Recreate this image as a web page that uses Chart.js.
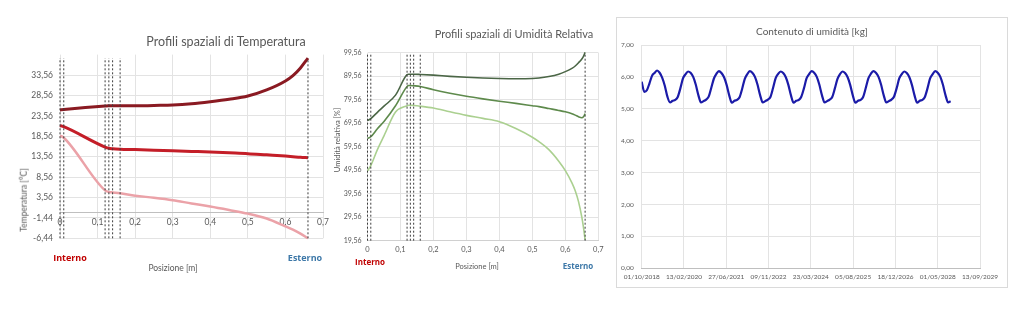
<!DOCTYPE html>
<html lang="it">
<head>
<meta charset="utf-8">
<title>Profili spaziali e contenuto di umidità</title>
<script src="https://cdn.jsdelivr.net/npm/chart.js@4.4.1/dist/chart.umd.min.js"></script>
<style>
  html, body { margin: 0; padding: 0; background: #fff; }
  #pagina { position: relative; width: 1024px; height: 321px; overflow: hidden; font-family: Lato, sans-serif; color: #595959; }
  canvas { position: absolute; left: 0; top: 0; }
  .testo { position: absolute; white-space: nowrap; line-height: 1; transform: translate(-50%, -50%); }
  .verticale { transform: translate(-50%, -50%) rotate(-90deg); }
  .interno { color: #C00000; font-family: 'Open Sans', sans-serif; font-weight: 700; }
  .esterno { color: #3D78A8; font-family: 'Open Sans', sans-serif; font-weight: 700; }
  .riquadro { position: absolute; left: 616px; top: 17px; width: 390px; height: 269px; border: 1px solid #DADADA; }
</style>
</head>
<body>
<div id="pagina">
  <div class="riquadro"></div>
  <canvas id="graficoTemperatura" width="1024" height="321"></canvas>
  <canvas id="graficoUmiditaRelativa" width="1024" height="321"></canvas>
  <canvas id="graficoContenuto" width="1024" height="321"></canvas>

  <div class="testo" style="left:226px; top:42px; font-size:12.5px;">Profili spaziali di Temperatura</div>
  <div class="testo verticale" style="left:24px; top:200px; font-size:8.5px;">Temperatura [°C]</div>
  <div class="testo" style="left:173px; top:268px; font-size:8.5px;">Posizione [m]</div>
  <div class="testo interno" style="left:70px; top:257px; font-size:9px;">Interno</div>
  <div class="testo esterno" style="left:305px; top:257px; font-size:9px;">Esterno</div>

  <div class="testo" style="left:514px; top:33px; font-size:11px;">Profili spaziali di Umidità Relativa</div>
  <div class="testo verticale" style="left:338px; top:140px; font-size:7.5px;">Umidità relativa [%]</div>
  <div class="testo" style="left:477px; top:267px; font-size:7.5px;">Posizione [m]</div>
  <div class="testo interno" style="left:370px; top:262px; font-size:8px;">Interno</div>
  <div class="testo esterno" style="left:578px; top:266px; font-size:8px;">Esterno</div>

  <div class="testo" style="left:812px; top:31px; font-size:10px;">Contenuto di umidità [kg]</div>
</div>

<script>
// ---- Profili di temperatura [°C] ----
const posizioniT = [0, 0.01, 0.12, 0.13, 0.14, 0.16, 0.2, 0.25, 0.3, 0.35, 0.4, 0.45, 0.5, 0.55, 0.6, 0.62, 0.64, 0.66];
const tempMax = [25.0, 25.1, 25.95, 26.0, 26.0, 26.0, 26.0, 26.1, 26.2, 26.5, 27.0, 27.6, 28.4, 29.9, 32.1, 33.4, 35.3, 37.7];
const tempMedia = [21.2, 20.9, 15.9, 15.6, 15.5, 15.4, 15.3, 15.15, 15.0, 14.85, 14.7, 14.5, 14.3, 14.0, 13.7, 13.55, 13.4, 13.3];
const tempMin = [18.7, 18.2, 5.3, 4.9, 4.8, 4.6, 4.0, 3.5, 2.9, 2.1, 1.35, 0.5, -0.4, -1.6, -3.5, -4.3, -5.3, -6.44];
const tickTemp = [-6.44, -1.44, 3.56, 8.56, 13.56, 18.56, 23.56, 28.56, 33.56];

// ---- Profili di umidità relativa [%] ----
const posizioniUR = [0, 0.01, 0.03, 0.05, 0.085, 0.12, 0.125, 0.13, 0.14, 0.16, 0.2, 0.25, 0.3, 0.35, 0.4, 0.45, 0.5, 0.52, 0.55, 0.58, 0.6, 0.62, 0.63, 0.64, 0.65, 0.655, 0.66];
const urMax = [70.7, 71.5, 74.2, 76.8, 81.5, 90.2, 90.4, 90.4, 90.4, 90.3, 90.0, 89.5, 89.1, 88.8, 88.6, 88.5, 88.6, 88.8, 89.4, 90.4, 91.5, 92.9, 93.9, 95.3, 96.9, 98.0, 99.7];
const urMedia = [63.1, 63.8, 67.2, 70.3, 77.0, 85.2, 85.6, 85.6, 85.5, 85.2, 83.8, 82.3, 81.0, 79.9, 78.9, 78.0, 77.0, 76.6, 75.8, 75.0, 74.4, 73.6, 73.0, 72.3, 71.9, 72.3, 73.6];
const urMin = [49.3, 51.5, 58.3, 64.2, 74.3, 77.0, 77.2, 77.2, 77.1, 76.8, 76.0, 74.4, 72.9, 71.6, 70.2, 67.3, 63.6, 61.7, 58.3, 53.4, 49.4, 44.2, 40.8, 36.2, 29.6, 25.2, 19.9];
const tickUR = [19.56, 29.56, 39.56, 49.56, 59.56, 69.56, 79.56, 89.56, 99.56];

// confini degli strati della parete [m]
const confiniStrati = [0, 0.01, 0.12, 0.13, 0.14, 0.16, 0.66];

// ---- Contenuto di umidità [kg], un valore al primo di ogni mese da ottobre 2018 ----
const contenutoUmidita = [
  5.85, 5.53, 5.58, 5.80, 6.04, 6.12, 6.20, 6.13, 5.97, 5.72, 5.38, 5.20,
  5.25, 5.28, 5.37, 5.64, 5.95, 6.08, 6.17, 6.13, 6.00, 5.76, 5.43, 5.20,
  5.24, 5.29, 5.38, 5.66, 5.95, 6.09, 6.18, 6.12, 5.99, 5.75, 5.42, 5.19,
  5.25, 5.28, 5.36, 5.63, 5.94, 6.08, 6.18, 6.13, 6.00, 5.76, 5.43, 5.20,
  5.24, 5.29, 5.37, 5.65, 5.96, 6.09, 6.17, 6.12, 5.99, 5.75, 5.42, 5.19,
  5.25, 5.28, 5.38, 5.64, 5.95, 6.08, 6.18, 6.13, 6.00, 5.76, 5.43, 5.20,
  5.24, 5.29, 5.37, 5.64, 5.94, 6.08, 6.17, 6.12, 5.99, 5.75, 5.42, 5.19,
  5.25, 5.28, 5.37, 5.65, 5.95, 6.09, 6.18, 6.13, 6.00, 5.76, 5.43, 5.20,
  5.24, 5.29, 5.38, 5.64, 5.95, 6.08, 6.17, 6.12, 5.99, 5.75, 5.42, 5.19,
  5.25, 5.28, 5.37, 5.64, 5.95, 6.08, 6.18, 6.13, 6.00, 5.76, 5.43, 5.20,
  5.24
];
const etichetteDate = ['01/10/2018', '13/02/2020', '27/06/2021', '09/11/2022', '23/03/2024', '05/08/2025', '18/12/2026', '01/05/2028', '13/09/2029'];
const tickContenuto = [0, 1, 2, 3, 4, 5, 6, 7];

const coloreGriglia = '#E3E3E3';
const coloreTesto = '#595959';
const GIORNO = 86400000;
const dataInizio = Date.UTC(2018, 9, 1);

function virgola(v, decimali) {
  return v.toFixed(decimali).replace('.', ',');
}

function punti(xs, ys) {
  return xs.map((x, i) => ({ x: x, y: ys[i] }));
}

function serieLinea(xs, ys, colore, spessore) {
  return {
    data: punti(xs, ys),
    borderColor: colore,
    borderWidth: spessore,
    pointRadius: 0,
    cubicInterpolationMode: 'monotone',
    clip: 4
  };
}

function lineeConfini(basso, alto) {
  return confiniStrati.map(c => ({
    data: [{ x: c, y: basso }, { x: c, y: alto }],
    borderColor: '#3C3C3C',
    borderWidth: 1,
    borderDash: [2, 2],
    pointRadius: 0,
    clip: 4
  }));
}

const opzioniBase = {
  responsive: false,
  animation: false,
  plugins: { legend: { display: false }, tooltip: { enabled: false }, title: { display: false } }
};

Chart.defaults.font.family = 'Lato, sans-serif';
Chart.defaults.color = coloreTesto;

// Grafico 1: temperatura
new Chart(document.getElementById('graficoTemperatura'), {
  type: 'line',
  data: {
    datasets: [
      ...lineeConfini(tickTemp[0], Math.max(...tempMax)),
      serieLinea(posizioniT, tempMin, '#EBA2A8', 2.5),
      serieLinea(posizioniT, tempMedia, '#C41E28', 3),
      serieLinea(posizioniT, tempMax, '#8A1A22', 3)
    ]
  },
  options: {
    ...opzioniBase,
    layout: { padding: { left: 0, right: 701, top: 54.6, bottom: 82.7 } },
    scales: {
      x: {
        type: 'linear',
        position: { y: 0 },
        min: 0,
        max: 0.7,
        ticks: { stepSize: 0.1, padding: 5, font: { size: 8.5 }, callback: v => v === 0 ? '0' : virgola(v, 1) },
        grid: { color: coloreGriglia, drawTicks: false },
        border: { color: '#BFBFBF' }
      },
      y: {
        type: 'linear',
        min: -6.44,
        max: 38.56,
        afterBuildTicks: s => { s.ticks = tickTemp.map(v => ({ value: v })); },
        afterFit: s => { s.width = 60; },
        ticks: { padding: 7, font: { size: 8.5 }, callback: v => virgola(v, 2) },
        grid: { color: coloreGriglia, drawTicks: false },
        border: { display: false }
      }
    }
  }
});

// Grafico 2: umidità relativa
new Chart(document.getElementById('graficoUmiditaRelativa'), {
  type: 'line',
  data: {
    datasets: [
      ...lineeConfini(tickUR[0], tickUR[tickUR.length - 1]),
      serieLinea(posizioniUR, urMin, '#ABD090', 1.6),
      serieLinea(posizioniUR, urMedia, '#5E8A4C', 1.6),
      serieLinea(posizioniUR, urMax, '#4B6646', 1.6)
    ]
  },
  options: {
    ...opzioniBase,
    layout: { padding: { left: 337.5, right: 425.7, top: 52.7, bottom: 60.3 } },
    scales: {
      x: {
        type: 'linear',
        min: 0,
        max: 0.7,
        afterFit: s => { s.height = 20; },
        ticks: { stepSize: 0.1, padding: 4, font: { size: 7.5 }, callback: v => v === 0 ? '0' : virgola(v, 1) },
        grid: { color: coloreGriglia, drawTicks: false },
        border: { color: '#D0D0D0' }
      },
      y: {
        type: 'linear',
        min: 19.56,
        max: 99.56,
        afterBuildTicks: s => { s.ticks = tickUR.map(v => ({ value: v })); },
        afterFit: s => { s.width = 30; },
        ticks: { padding: 6, font: { size: 7 }, callback: v => virgola(v, 2) },
        grid: { color: coloreGriglia, drawTicks: false },
        border: { display: false }
      }
    }
  }
});

// Grafico 3: contenuto di umidità nel tempo
new Chart(document.getElementById('graficoContenuto'), {
  type: 'line',
  data: {
    datasets: [{
      data: contenutoUmidita.map((v, i) => ({ x: (Date.UTC(2018, 9 + i, 1) - dataInizio) / GIORNO, y: v })),
      borderColor: '#1B1BA8',
      borderWidth: 2.2,
      pointRadius: 0,
      cubicInterpolationMode: 'monotone'
    }]
  },
  options: {
    ...opzioniBase,
    layout: { padding: { left: 611.7, right: 44, top: 45, bottom: 32.7 } },
    scales: {
      x: {
        type: 'linear',
        min: 0,
        max: 4000,
        afterFit: s => { s.height = 20; },
        ticks: { stepSize: 500, autoSkip: false, maxRotation: 0, padding: 5, font: { size: 6.5 }, callback: (v, i) => etichetteDate[i] },
        grid: { color: coloreGriglia, drawTicks: false },
        border: { color: '#BFBFBF' }
      },
      y: {
        type: 'linear',
        min: 0,
        max: 7,
        afterBuildTicks: s => { s.ticks = tickContenuto.map(v => ({ value: v })); },
        afterFit: s => { s.width = 30; },
        ticks: { padding: 8, font: { size: 6.5 }, callback: v => virgola(v, 2) },
        grid: { color: coloreGriglia, drawTicks: false },
        border: { display: false }
      }
    }
  }
});
</script>
</body>
</html>
